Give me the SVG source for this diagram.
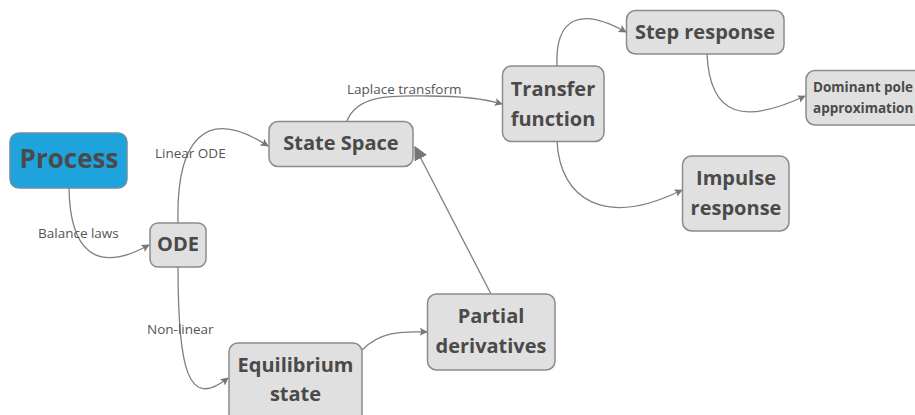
<svg xmlns="http://www.w3.org/2000/svg" width="915" height="415" viewBox="0 0 915 415">
  <style>
    .node rect { fill: #e0e0e0; stroke: #8a8a8a; stroke-width: 1.5; }
    .node text { font-family: "Open Sans", "Noto Sans", sans-serif; font-weight: bold; fill: #4a4a4a; text-anchor: middle; font-size: 20px; }
    .node text.small { font-size: 13.5px; text-anchor: start; }
    .edge { fill: none; stroke: #7f7f7f; stroke-width: 1.3; }
    .lbl { font-family: "Open Sans", "Noto Sans", sans-serif; font-size: 13.5px; fill: #555; }
  </style>
  <defs>
    <marker id="arr" viewBox="0 0 10 10" refX="9" refY="5" markerWidth="8" markerHeight="8" markerUnits="userSpaceOnUse" orient="auto">
      <path d="M0,0 L10,5 L0,10 L2,5 Z" fill="#777"/>
    </marker>
    <marker id="arrBig" viewBox="0 0 10 10" refX="9" refY="5" markerWidth="14" markerHeight="14" markerUnits="userSpaceOnUse" orient="auto">
      <path d="M0,0 L10,5 L0,10 Z" fill="#777"/>
    </marker>
  </defs>

  <rect width="915" height="415" fill="#ffffff"/>

  <g id="connectors">
    <path class="edge" d="M69,188 C70,250 95,275 149,245" marker-end="url(#arr)"/>
    <path class="edge" d="M178,223 C176,140 205,105 268,146" marker-end="url(#arr)"/>
    <path class="edge" d="M178,267 C178,370 188,410 228,378" marker-end="url(#arr)"/>
    <path class="edge" d="M362,350 C380,332 400,331 427,332" marker-end="url(#arr)"/>
    <path class="edge" d="M491,294 L415,147" marker-end="url(#arrBig)"/>
    <path class="edge" d="M347,121 C358,92 400,96 430,96 C465,96 485,99 502,104" marker-end="url(#arr)"/>
    <path class="edge" d="M557,66 C555,18 580,6 626,32" marker-end="url(#arr)"/>
    <path class="edge" d="M707,54 C710,118 745,124 805,96" marker-end="url(#arr)"/>
    <path class="edge" d="M557,141 C560,200 605,228 682,190" marker-end="url(#arr)"/>

    <text class="lbl" x="38" y="238">Balance laws</text>
    <text class="lbl" x="155" y="158">Linear ODE</text>
    <text class="lbl" x="147" y="334">Non-linear</text>
    <text class="lbl" x="347" y="94">Laplace transform</text>
  </g>

  <g id="process" class="node">
    <rect x="10" y="133" width="117" height="55" rx="9" style="fill:#1fa3dc;stroke:#6b8fa6"/>
    <text x="69" y="168" style="font-size:26px">Process</text>
  </g>
  <g id="ode" class="node">
    <rect x="150" y="223" width="56" height="44" rx="8"/>
    <text x="178" y="251">ODE</text>
  </g>
  <g id="state-space" class="node">
    <rect x="269" y="121.5" width="144" height="45" rx="9"/>
    <text x="341" y="150">State Space</text>
  </g>
  <g id="transfer-function" class="node">
    <rect x="502.5" y="66" width="101.5" height="75.5" rx="9"/>
    <text x="553" y="96">Transfer</text>
    <text x="553" y="126">function</text>
  </g>
  <g id="step-response" class="node">
    <rect x="626.5" y="10.5" width="157.5" height="43.5" rx="9"/>
    <text x="705" y="39">Step response</text>
  </g>
  <g id="dominant-pole" class="node">
    <rect x="806" y="70.5" width="120" height="54.5" rx="9"/>
    <text class="small" x="813" y="92">Dominant pole</text>
    <text class="small" x="813" y="113">approximation</text>
  </g>
  <g id="impulse-response" class="node">
    <rect x="682.5" y="156" width="106.5" height="75" rx="9"/>
    <text x="736" y="185">Impulse</text>
    <text x="736" y="215">response</text>
  </g>
  <g id="partial-derivatives" class="node">
    <rect x="427.5" y="294" width="127.5" height="76" rx="9"/>
    <text x="491" y="323">Partial</text>
    <text x="491" y="353">derivatives</text>
  </g>
  <g id="equilibrium-state" class="node">
    <rect x="229" y="343" width="133" height="80" rx="9"/>
    <text x="295.5" y="372">Equilibrium</text>
    <text x="295.5" y="401">state</text>
  </g>
</svg>
